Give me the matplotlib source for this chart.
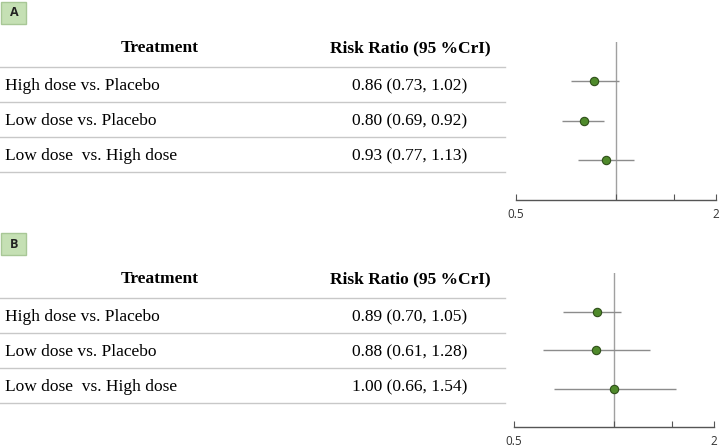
import matplotlib
matplotlib.use("Agg")
import matplotlib.pyplot as plt
from matplotlib.lines import Line2D
from matplotlib.patches import Rectangle

W, H = 725, 448

treatments = ["High dose vs. Placebo", "Low dose vs. Placebo", "Low dose  vs. High dose"]

# panel A
rr_a = [0.86, 0.80, 0.93]
lo_a = [0.73, 0.69, 0.77]
hi_a = [1.02, 0.92, 1.13]

# panel B
rr_b = [0.89, 0.88, 1.00]
lo_b = [0.70, 0.61, 0.66]
hi_b = [1.05, 1.28, 1.54]

xticks = [0.5, 1, 1.5, 2]
xticklabels = ["0.5", "", "", "2"]

serif = "Liberation Serif"
sans = "Open Sans"


def fx(px):
    return px / W


def fy(py):
    return 1 - py / H


def panel(fig, letter, top, rr, lo, hi, ax_left, ax_top, ax_bottom):
    # letter box
    fig.add_artist(Rectangle((fx(1), fy(top + 22)), fx(25), 22 / H, facecolor="#c5e0b4",
                             edgecolor="#a8c796", lw=1, transform=fig.transFigure))
    fig.text(fx(14), fy(top + 11), letter, ha="center", va="center", fontsize=9,
             fontweight="bold", family=sans, color="#222222")

    # table
    head_y = top + 46
    fig.text(fx(160), fy(head_y), "Treatment", ha="center", va="center",
             fontsize=12.5, fontweight="bold", family=serif)
    fig.text(fx(410), fy(head_y), "Risk Ratio (95 %CrI)", ha="center", va="center",
             fontsize=12.5, fontweight="bold", family=serif)
    row_h = 35
    line_y = top + 65
    fig.add_artist(Line2D([0, fx(505)], [fy(line_y), fy(line_y)], color="#c8c8c8", lw=1))
    for i, name in enumerate(treatments):
        ty = line_y + row_h * i + row_h / 2 + 1.5
        fig.text(fx(5), fy(ty), name, ha="left", va="center", fontsize=12.5, family=serif)
        fig.text(fx(410), fy(ty), f"{rr[i]:.2f} ({lo[i]:.2f}, {hi[i]:.2f})",
                 ha="center", va="center", fontsize=12.5, family=serif)
        ly = line_y + row_h * (i + 1)
        fig.add_artist(Line2D([0, fx(505)], [fy(ly), fy(ly)], color="#c8c8c8", lw=1))

    # forest plot
    ax = fig.add_axes([fx(ax_left), fy(ax_bottom), fx(200), (ax_bottom - ax_top) / H])
    ax.set_xscale("log")
    ax.set_xlim(0.5, 2)
    ax.set_ylim(3.0, -1.0)
    ax.axvline(1, color="#a0a0a0", lw=1, zorder=1)
    ys = list(range(len(rr)))
    ax.hlines(ys, lo, hi, color="#8c8c8c", lw=1, zorder=2)
    ax.plot(rr, ys, "o", ms=6, mfc="#4f8a2b", mec="#2f4f1a", mew=0.8, zorder=3)
    for s in ["top", "right", "left"]:
        ax.spines[s].set_visible(False)
    ax.spines["bottom"].set_color("#555555")
    ax.spines["bottom"].set_linewidth(1)
    ax.set_yticks([])
    ax.set_xticks(xticks)
    ax.set_xticklabels(xticklabels)
    ax.xaxis.set_minor_locator(matplotlib.ticker.NullLocator())
    ax.tick_params(axis="x", direction="in", length=4, color="#555555", labelsize=8.5,
                   pad=6, labelcolor="#333333")
    for lab in ax.get_xticklabels():
        lab.set_family(sans)


fig = plt.figure(figsize=(W / 100, H / 100), dpi=100)
panel(fig, "A", 2, rr_a, lo_a, hi_a, 516, 42, 200)
panel(fig, "B", 233, rr_b, lo_b, hi_b, 514, 273, 427)
fig.savefig("out.png", dpi=100)
